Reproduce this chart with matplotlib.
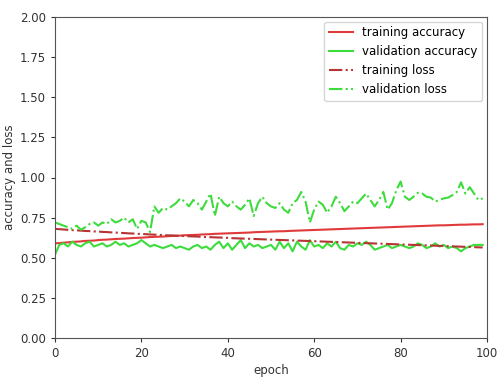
import matplotlib
matplotlib.use("Agg")
import matplotlib.pyplot as plt
import numpy as np

epochs = list(range(100))

train_acc = [0.590, 0.591, 0.594, 0.596, 0.599, 0.600, 0.602, 0.605, 0.606, 0.607,
             0.610, 0.612, 0.613, 0.615, 0.617, 0.618, 0.619, 0.621, 0.623, 0.624,
             0.625, 0.627, 0.629, 0.630, 0.631, 0.632, 0.634, 0.636, 0.636, 0.638,
             0.640, 0.641, 0.642, 0.643, 0.645, 0.646, 0.647, 0.649, 0.650, 0.651,
             0.652, 0.653, 0.654, 0.655, 0.656, 0.657, 0.659, 0.660, 0.661, 0.662,
             0.663, 0.664, 0.665, 0.665, 0.667, 0.668, 0.669, 0.670, 0.671, 0.672,
             0.673, 0.674, 0.675, 0.676, 0.677, 0.678, 0.679, 0.680, 0.681, 0.682,
             0.683, 0.684, 0.685, 0.686, 0.687, 0.688, 0.689, 0.690, 0.691, 0.692,
             0.693, 0.694, 0.695, 0.696, 0.697, 0.698, 0.699, 0.700, 0.701, 0.702,
             0.702, 0.703, 0.704, 0.705, 0.706, 0.706, 0.707, 0.708, 0.708, 0.709]

val_acc = [0.52, 0.58, 0.59, 0.57, 0.60, 0.58, 0.57, 0.59, 0.60, 0.57,
           0.58, 0.59, 0.57, 0.58, 0.60, 0.58, 0.59, 0.57, 0.58, 0.59,
           0.61, 0.59, 0.57, 0.58, 0.57, 0.56, 0.57, 0.58, 0.56, 0.57,
           0.56, 0.55, 0.57, 0.58, 0.56, 0.57, 0.55, 0.58, 0.60, 0.56,
           0.59, 0.55, 0.58, 0.61, 0.56, 0.59, 0.57, 0.58, 0.56, 0.57,
           0.58, 0.55, 0.60, 0.56, 0.59, 0.54, 0.60, 0.57, 0.55, 0.61,
           0.57, 0.58, 0.56, 0.59, 0.57, 0.60, 0.56, 0.55, 0.58, 0.57,
           0.59, 0.58, 0.60, 0.58, 0.55, 0.56, 0.57, 0.58, 0.56, 0.57,
           0.58, 0.57, 0.56, 0.57, 0.59, 0.58, 0.56, 0.57, 0.59, 0.57,
           0.58, 0.56, 0.57, 0.56, 0.54, 0.56, 0.57, 0.58, 0.58, 0.58]

train_loss = [0.680, 0.678, 0.676, 0.674, 0.672, 0.671, 0.669, 0.667, 0.666, 0.664,
              0.663, 0.661, 0.660, 0.658, 0.657, 0.655, 0.654, 0.652, 0.651, 0.649,
              0.648, 0.647, 0.645, 0.644, 0.643, 0.641, 0.640, 0.639, 0.638, 0.636,
              0.635, 0.634, 0.633, 0.632, 0.630, 0.629, 0.628, 0.627, 0.626, 0.625,
              0.624, 0.622, 0.621, 0.620, 0.619, 0.618, 0.617, 0.616, 0.615, 0.614,
              0.613, 0.612, 0.611, 0.610, 0.609, 0.608, 0.607, 0.606, 0.605, 0.604,
              0.603, 0.602, 0.601, 0.600, 0.599, 0.598, 0.597, 0.596, 0.595, 0.594,
              0.593, 0.592, 0.591, 0.590, 0.589, 0.588, 0.587, 0.586, 0.585, 0.584,
              0.583, 0.582, 0.581, 0.580, 0.579, 0.578, 0.577, 0.576, 0.575, 0.574,
              0.573, 0.572, 0.571, 0.570, 0.569, 0.568, 0.567, 0.566, 0.565, 0.564]

val_loss = [0.72, 0.71, 0.70, 0.69, 0.68, 0.70, 0.675, 0.69, 0.71, 0.72,
            0.70, 0.72, 0.71, 0.74, 0.72, 0.73, 0.75, 0.72, 0.74, 0.68,
            0.73, 0.72, 0.66, 0.82, 0.78, 0.81, 0.80, 0.82, 0.84, 0.87,
            0.85, 0.82, 0.86, 0.84, 0.80, 0.85, 0.90, 0.76, 0.88, 0.84,
            0.82, 0.85, 0.82, 0.80, 0.83, 0.87, 0.76, 0.84, 0.88, 0.84,
            0.82, 0.81, 0.84, 0.80, 0.78, 0.84, 0.86, 0.91, 0.85, 0.72,
            0.80, 0.85, 0.83, 0.78, 0.82, 0.88, 0.84, 0.79, 0.82, 0.85,
            0.84, 0.87, 0.90, 0.86, 0.82, 0.86, 0.91, 0.80, 0.84, 0.92,
            0.975, 0.88, 0.86, 0.88, 0.905, 0.90, 0.88, 0.875, 0.85, 0.86,
            0.87, 0.875, 0.89, 0.91, 0.97, 0.90, 0.94, 0.90, 0.86, 0.87]

fig = plt.figure(figsize=(5.02, 3.78), dpi=100)
ax = fig.add_axes([55 / 502, 40 / 378, 432 / 502, 321 / 378])

fs = 8.5
lw = 1.5
ax.plot(epochs, train_acc, color='#e03a3a', lw=lw, label='training accuracy')
ax.plot(epochs, val_acc, color='#3ddc3d', lw=lw, label='validation accuracy')
ax.plot(epochs, train_loss, color='#b83434', lw=lw, ls='-.', label='training loss')
ax.plot(epochs, val_loss, color='#3ddc3d', lw=lw, ls='-.', label='validation loss')

ax.set_xlim(0, 100)
ax.set_ylim(0, 2.0)
ax.set_yticks(np.arange(0, 2.01, 0.25))
ax.set_yticklabels([f"{v:.2f}" for v in np.arange(0, 2.01, 0.25)])
ax.tick_params(labelsize=fs, colors='#333333', length=3)
ax.set_xlabel('epoch', fontsize=fs, color='#333333', labelpad=3)
ax.set_ylabel('accuracy and loss', fontsize=fs, color='#333333', labelpad=3)
for s in ax.spines.values():
    s.set_color('#555555')
    s.set_linewidth(0.8)

leg = ax.legend(loc='upper right', fontsize=fs, frameon=True, borderaxespad=0.4)
leg.get_frame().set_edgecolor('#cccccc')

fig.savefig('out.png', dpi=100)
